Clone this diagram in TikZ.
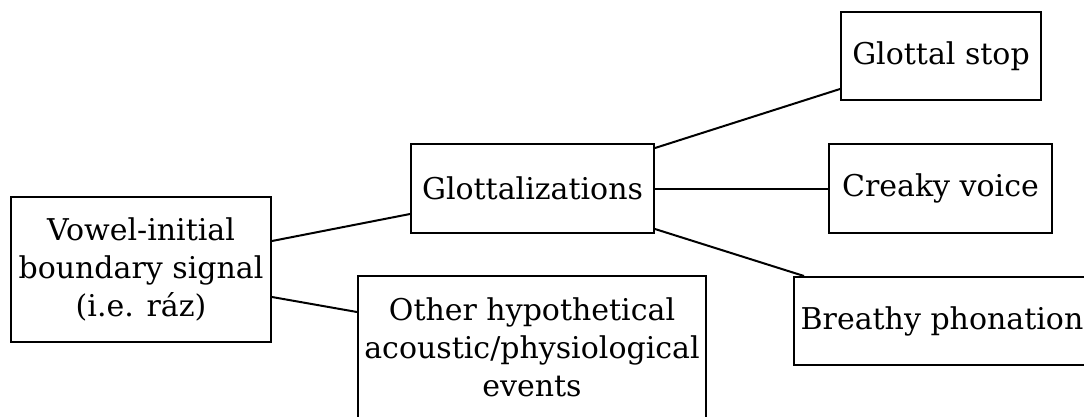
\documentclass[tikz,border=0pt]{standalone}
\usepackage{fontspec}
\setmainfont{DejaVu Serif}
\usetikzlibrary{calc}
\begin{document}
\begin{tikzpicture}[x=1pt,y=-1pt,
  box/.style={draw,line width=2pt,rectangle,inner sep=0pt,align=center,
    font=\fontsize{30}{38}\selectfont},
  link/.style={line width=2pt}]
\useasboundingbox (0,0) rectangle (1084,416);
\node[box,minimum width=260pt,minimum height=145pt] (vowel) at (141,269.5)
  {Vowel-initial\\boundary signal\\(i.e. ráz)};
\node[box,minimum width=243pt,minimum height=89pt] (glott) at (532.5,188.5)
  {Glottalizations};
\node[box,minimum width=348pt,minimum height=142pt] (other) at (532,347)
  {Other hypothetical\\acoustic/physiological\\events};
\node[box,minimum width=200pt,minimum height=88pt] (gstop) at (941,56)
  {Glottal stop};
\node[box,minimum width=223pt,minimum height=89pt] (creaky) at (940.5,188.5)
  {Creaky voice};
\node[box,minimum width=296pt,minimum height=88pt] (breathy) at (942,321)
  {Breathy phonation};
\draw[link] ($(vowel.north east)+(0,45)$) -- ($(glott.south west)+(0,-20)$);
\draw[link] ($(vowel.south east)+(0,-46)$) -- ($(other.north west)+(0,37)$);
\draw[link] ($(glott.north east)+(0,5)$) -- ($(gstop.south west)+(0,-12)$);
\draw[link] (glott.east) -- (creaky.west);
\draw[link] ($(glott.south east)+(0,-5)$) -- ($(breathy.north west)+(11,0)$);
\end{tikzpicture}
\end{document}
